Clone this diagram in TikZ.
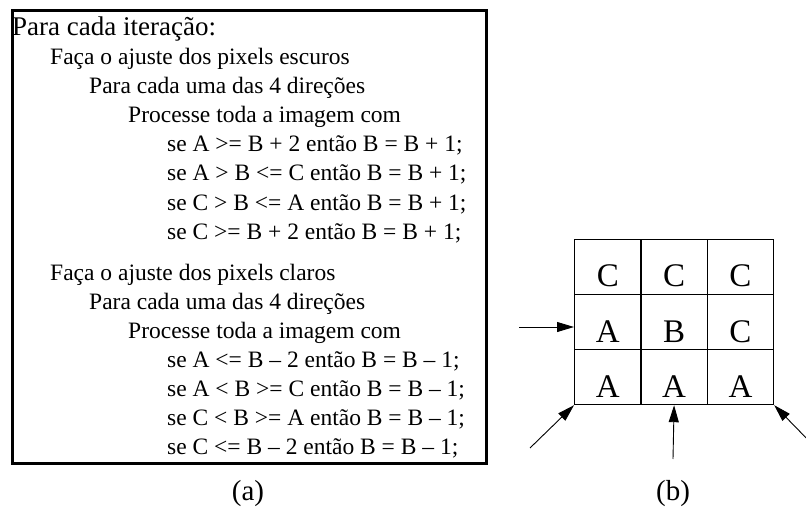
\documentclass[tikz,border=0pt]{standalone}
\usepackage{fontspec}
\setmainfont{Liberation Serif}
\usetikzlibrary{arrows.meta}
\tikzset{
  txt/.style={inner sep=0pt, anchor=base west, font=\fontsize{23.5}{29}\selectfont},
  head/.style={inner sep=0pt, anchor=base west, font=\fontsize{27}{32}\selectfont},
  cell/.style={draw, line width=1.2pt, minimum width=66.33pt, minimum height=55pt, inner sep=0pt, anchor=north west},
  letter/.style={inner sep=0pt, anchor=base, font=\fontsize{33}{38}\selectfont},
  captxt/.style={inner sep=0pt, anchor=base, font=\fontsize{29}{34}\selectfont},
  arr/.style={line width=0.9pt, -{Triangle[length=17pt,width=10pt]}},
  framebox/.style={draw, line width=2.6pt, inner sep=0pt, anchor=north west, minimum width=474pt, minimum height=453pt}
}
\begin{document}
\begin{tikzpicture}[x=1pt,y=-1pt]
\useasboundingbox (0,0) rectangle (806,508);
\clip (0,0) rectangle (806,508);
% box (a)
\node[framebox] (box) at (11,9) {};
\node[head] (l1) at (12,36) {Para cada iteração:};
\node[txt] (l2) at (50,65) {Faça o ajuste dos pixels escuros};
\node[txt] (l3) at (89,94) {Para cada uma das 4 direções};
\node[txt] (l4) at (128,123) {Processe toda a imagem com};
\node[txt] (l5) at (167,152) {se A >= B + 2 então B = B + 1;};
\node[txt] (l6) at (167,181) {se A > B <= C então B = B + 1;};
\node[txt] (l7) at (167,210) {se C > B <= A então B = B + 1;};
\node[txt] (l8) at (167,239) {se C >= B + 2 então B = B + 1;};
\node[txt] (l9) at (50,280) {Faça o ajuste dos pixels claros};
\node[txt] (l10) at (89,309) {Para cada uma das 4 direções};
\node[txt] (l11) at (128,338) {Processe toda a imagem com};
\node[txt] (l12) at (167,367) {se A <= B – 2 então B = B – 1;};
\node[txt] (l13) at (167,396) {se A < B >= C então B = B – 1;};
\node[txt] (l14) at (167,425) {se C < B >= A então B = B – 1;};
\node[txt] (l15) at (167,454) {se C <= B – 2 então B = B – 1;};
\node[captxt] (capa) at (248,500) {(a)};
% grid (b)
\node[cell] (c11) at (574,239) {};
\node[cell] (c12) at (640.33,239) {};
\node[cell] (c13) at (706.67,239) {};
\node[cell] (c21) at (574,294) {};
\node[cell] (c22) at (640.33,294) {};
\node[cell] (c23) at (706.67,294) {};
\node[cell] (c31) at (574,349) {};
\node[cell] (c32) at (640.33,349) {};
\node[cell] (c33) at (706.67,349) {};
\node[letter] at ([yshift=9pt]c11.south) {C};
\node[letter] at ([yshift=9pt]c12.south) {C};
\node[letter] at ([yshift=9pt]c13.south) {C};
\node[letter] at ([yshift=8pt]c21.south) {A};
\node[letter] at ([yshift=8pt]c22.south) {B};
\node[letter] at ([yshift=8pt]c23.south) {C};
\node[letter] at ([yshift=8pt]c31.south) {A};
\node[letter] at ([yshift=8pt]c32.south) {A};
\node[letter] at ([yshift=8pt]c33.south) {A};
\node[captxt] (capb) at (673,500) {(b)};
% arrows
\coordinate (sl) at (519,327);
\coordinate (tl) at (574,327);
\coordinate (sbl) at (530,448);
\coordinate (sbm) at (673,459);
\coordinate (sbr) at (815,447);
\draw[arr] (sl) -- (tl);
\draw[arr] (sbl) -- (c31.south west);
\draw[arr] (sbm) -- (c32.south);
\draw[arr] (sbr) -- (c33.south east);
\end{tikzpicture}
\end{document}
